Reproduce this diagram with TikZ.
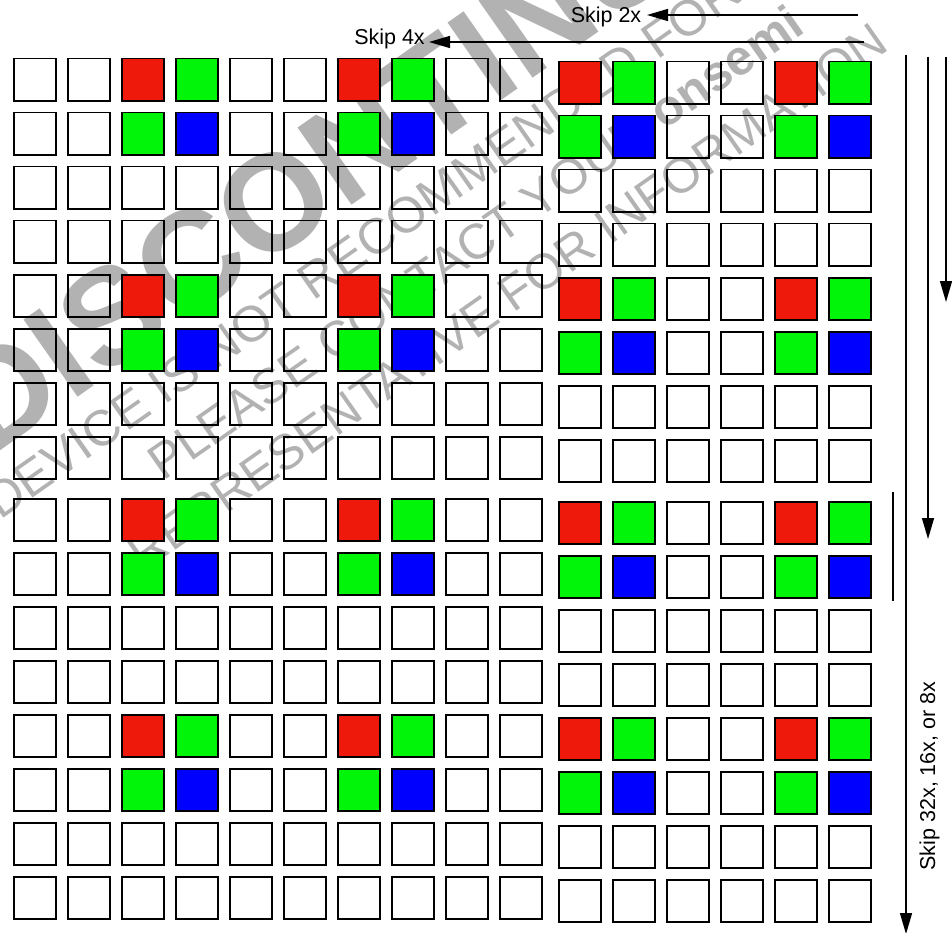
\documentclass[tikz,border=0pt]{standalone}
\usepackage{fontspec}
\setmainfont{Liberation Sans}
\usetikzlibrary{arrows.meta}
\definecolor{wm}{gray}{0.70}
\definecolor{cR}{HTML}{EE190B}
\definecolor{cG}{HTML}{00F508}
\definecolor{cB}{HTML}{0000FF}
\tikzset{
  cell/.style={draw=black,line width=1.8pt},
  wmsmall/.style={text=wm,inner sep=0pt,anchor=base west,rotate=35,font=\fontsize{49.5}{52}\selectfont},
  wmbig/.style={text=wm,inner sep=0pt,anchor=base west,rotate=35,font=\fontsize{137}{140}\selectfont\bfseries},
  skiplabel/.style={inner sep=0pt,text=black,font=\fontsize{21.5}{24}\selectfont},
  skiparrow/.style={draw=black,line width=1.4pt,-{Triangle[length=21pt,width=12pt]}},
  plainbar/.style={draw=black,line width=1.4pt}
}
\newcommand{\cellblock}[4]{% x0, y0, column offset, number of columns
  \foreach \c in {1,...,#4}{
    \foreach \r in {1,...,8}{
      \pgfmathtruncatemacro{\ci}{mod(\c-1+#3,4)}
      \pgfmathtruncatemacro{\ri}{mod(\r-1,4)}
      \def\fc{none}
      \ifnum\ri=0 \ifnum\ci=0 \def\fc{cR}\fi \ifnum\ci=1 \def\fc{cG}\fi\fi
      \ifnum\ri=1 \ifnum\ci=0 \def\fc{cG}\fi \ifnum\ci=1 \def\fc{cB}\fi\fi
      \pgfmathsetmacro{\xa}{#1+54*(\c-1)+0.6}
      \pgfmathsetmacro{\ya}{#2+54*(\r-1)+0.6}
      \draw[cell,fill=\fc] (\xa,\ya) rectangle ++(42.4,42.4);
    }
  }
}
\begin{document}
\begin{tikzpicture}[x=1pt,y=-1pt]
\useasboundingbox (0,0) rectangle (952,933);
\clip (0,0) rectangle (952,933);
% watermark
\node[wmbig] (wm0) at (-11,459) {DISCONTINUED};
\node[wmsmall,font=\fontsize{50.3}{52}\selectfont] (wm1) at (0,521) {DEVICE IS NOT RECOMMENDED FOR};
\node[wmsmall] (wm2) at (163,482) {PLEASE CONTACT YOUR \textbf{onsemi}};
\node[wmsmall] (wm3) at (143,573) {REPRESENTATIVE FOR INFORMATION};
% cell blocks
\cellblock{13}{58}{2}{10}
\cellblock{13}{498}{2}{10}
\cellblock{558}{61}{0}{6}
\cellblock{558}{501}{0}{6}
% labels
\node[skiplabel] (s2) at (606,16.5) {Skip 2x};
\node[skiplabel] (s4) at (389.5,39) {Skip 4x};
\node[skiplabel,rotate=90] (s32) at (929.5,776) {Skip 32x, 16x, or 8x};
% connectors
\coordinate (a2s) at (858,15);
\coordinate (a2e) at (647,15);
\coordinate (a4s) at (864,42);
\coordinate (a4e) at (429,42);
\coordinate (d1s) at (906,55);
\coordinate (d1e) at (906,934);
\coordinate (d2s) at (928,57);
\coordinate (d2e) at (928,539);
\coordinate (d3s) at (946,57);
\coordinate (d3e) at (946,302);
\coordinate (bs) at (893,492);
\coordinate (be) at (893,601);
\draw[skiparrow] (a2s) -- (a2e);
\draw[skiparrow] (a4s) -- (a4e);
\draw[skiparrow] (d1s) -- (d1e);
\draw[skiparrow] (d2s) -- (d2e);
\draw[skiparrow] (d3s) -- (d3e);
\draw[plainbar] (bs) -- (be);
\end{tikzpicture}
\end{document}
